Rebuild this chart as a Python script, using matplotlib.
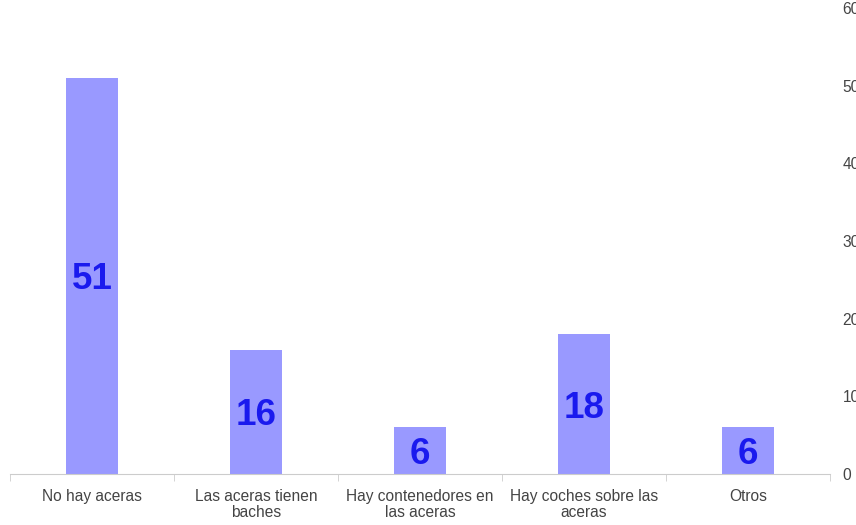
import numpy as np
import matplotlib.pyplot as plt

plt.rcParams['font.family'] = ['Liberation Sans', 'DejaVu Sans']

categorias = ["No hay aceras", "Las aceras tienen\nbaches", "Hay contenedores en\nlas aceras",
              "Hay coches sobre las\naceras", "Otros"]
valores = [51, 16, 6, 18, 6]
y_ticks = [0, 10, 20, 30, 40, 50, 60]

fig = plt.figure(figsize=(8.56, 5.25), dpi=100)
ax = fig.add_axes([10 / 856, 51 / 525, 820 / 856, 466 / 525])

x = np.arange(len(categorias))
ax.bar(x, valores, width=0.32, color='#9999ff', zorder=2)
for xi, v in zip(x, valores):
    ax.text(xi, v / 2, str(v), ha='center', va='center_baseline', fontsize=26.5,
            fontweight='bold', color='#1a1aee', zorder=3)

ax.set_xlim(-0.5, len(categorias) - 0.5)
ax.set_ylim(0, 60)
ax.set_xticks(x)
ax.set_xticklabels(categorias, fontsize=11.2, color='#444444', linespacing=1.1)
ax.set_xticks(np.arange(-0.5, len(categorias), 1), minor=True)
ax.tick_params(axis='x', which='major', length=0, pad=11)
ax.tick_params(axis='x', which='minor', length=5, color='#cccccc', direction='out')

# etiquetas del eje derecho (cortadas por el borde, como en el original)
ax.yaxis.tick_right()
ax.set_yticks(y_ticks)
ax.tick_params(axis='y', length=0, pad=9, labelsize=11.2, labelcolor='#444444')

for s in ['top', 'left', 'right']:
    ax.spines[s].set_visible(False)
ax.spines['bottom'].set_color('#cccccc')

plt.savefig('out.png', dpi=100)
